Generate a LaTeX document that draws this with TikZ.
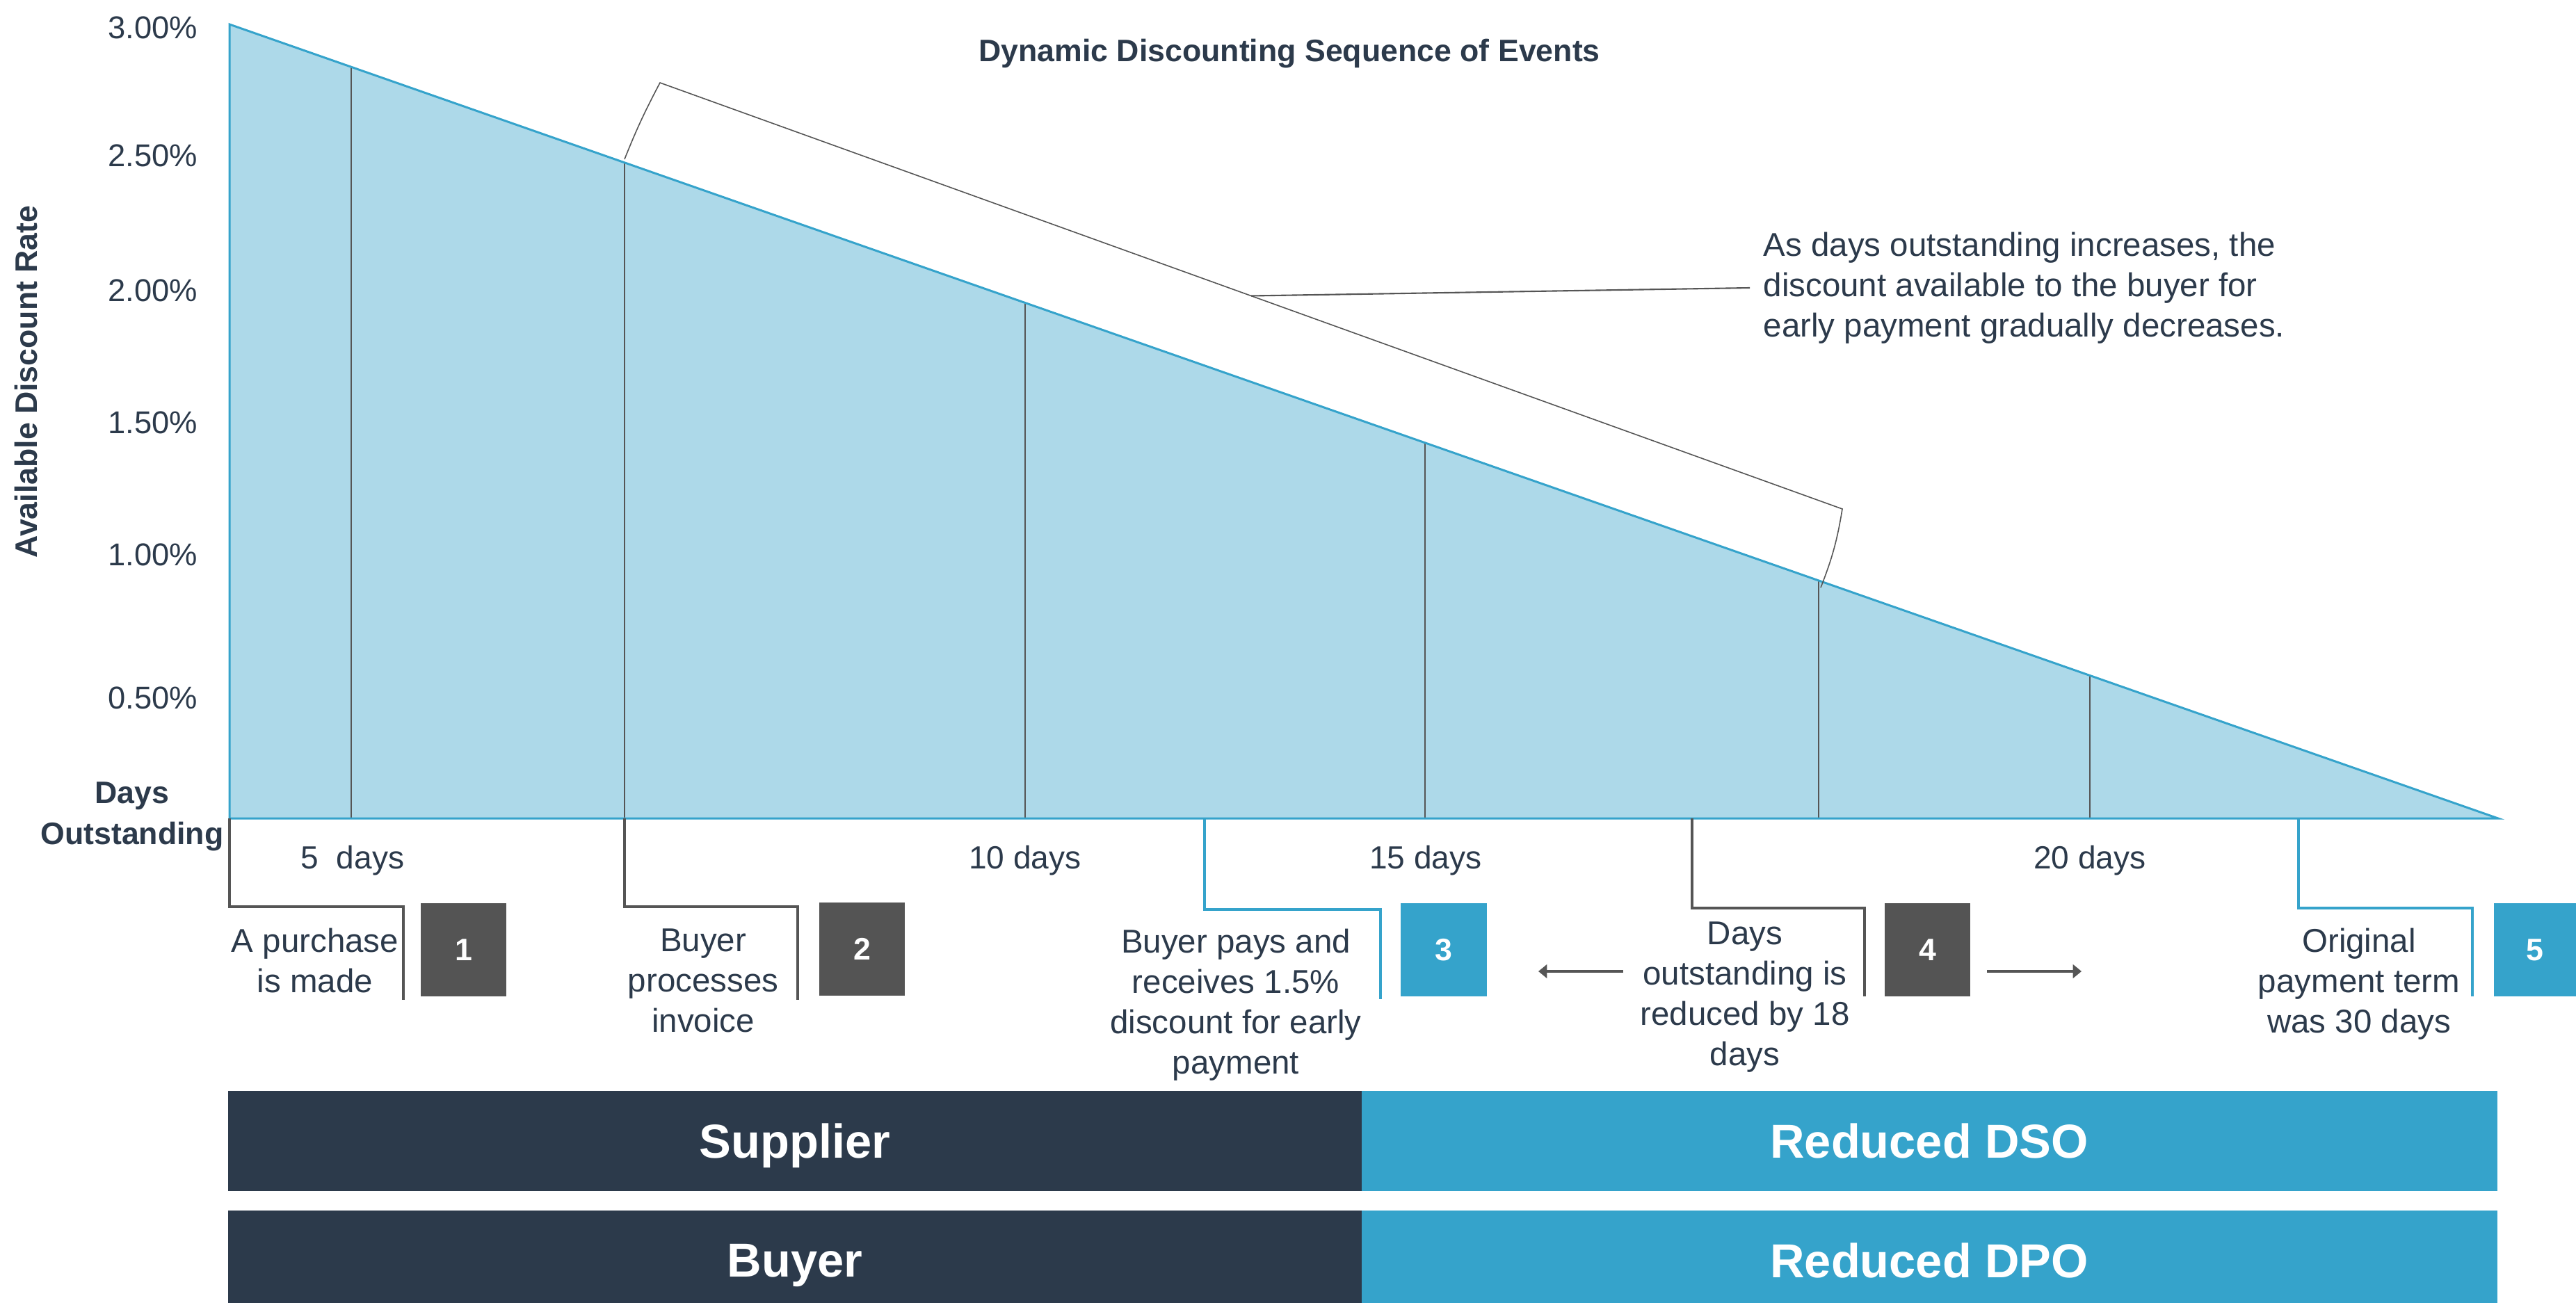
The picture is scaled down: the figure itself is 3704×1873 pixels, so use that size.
\documentclass[tikz,border=0pt]{standalone}
\usepackage{fontspec}
\setmainfont{Liberation Sans}
\usetikzlibrary{arrows.meta,calc}
\definecolor{navy}{HTML}{2C3A4B}
\definecolor{dblue}{HTML}{35A3CB}
\definecolor{lblue}{HTML}{ADD9E9}
\definecolor{gbox}{HTML}{545454}
\definecolor{gline}{HTML}{555555}
\begin{document}
\begin{tikzpicture}[x=0.01cm,y=-0.01cm,
  every node/.style={text=navy, inner sep=0pt},
  body/.style={font=\fontsize{13.5pt}{16.5pt}\selectfont, align=center},
  axislbl/.style={font=\fontsize{12.9pt}{15pt}\selectfont, anchor=east},
  daylbl/.style={font=\fontsize{13.1pt}{15pt}\selectfont},
  boldlbl/.style={font=\bfseries\fontsize{12.7pt}{16.7pt}\selectfont, align=center},
  numbox/.style={minimum width=1.23cm, minimum height=1.33cm, text=white, font=\bfseries\fontsize{12.7pt}{15pt}\selectfont},
  barbox/.style={minimum height=1.44cm, text=white, text depth=0pt, font=\bfseries\fontsize{19.5pt}{22pt}\selectfont},
  thinl/.style={draw=gline, line width=0.45pt},
  brk/.style={draw=gline, line width=1.1pt},
  brkb/.style={draw=dblue, line width=1.1pt},
  annot/.style={draw=gline, line width=0.45pt},
  arr/.style={draw=gline, line width=1.1pt, -{Triangle[length=3.5pt,width=5.5pt]}}
]
\useasboundingbox (0,0) rectangle (3704,1873);

% chart area
\coordinate (T0) at (330,35);
\coordinate (T1) at (3592,1177);
\coordinate (T2) at (330,1177);
\fill[lblue] (T0) -- (T1) -- (T2) -- cycle;
\foreach \x/\y in {505/96, 898/234, 1474/436, 2049/637, 2615/835, 3005/972}
  \draw[thinl] (\x,\y) -- (\x,1177);
\draw[dblue, line width=0.85pt, line join=miter] (T0) -- (T1) -- (T2) -- cycle;

% axis labels
\node[axislbl] (y300) at (285,40) {3.00\%};
\node[axislbl] (y250) at (285,224) {2.50\%};
\node[axislbl] (y200) at (285,418) {2.00\%};
\node[axislbl] (y150) at (285,608) {1.50\%};
\node[axislbl] (y100) at (285,798) {1.00\%};
\node[axislbl] (y050) at (285,1004) {0.50\%};
\node[boldlbl, rotate=90] (ytitle) at (38,549) {Available Discount Rate};
\node[boldlbl] (xtitle) at (190,1174) {Days\\Outstanding};
\node[boldlbl] (title) at (1854,77) {Dynamic Discounting Sequence of Events};

% day labels
\node[daylbl] (d5) at (507,1238) {5~ days};
\node[daylbl] (d10) at (1474,1238) {10 days};
\node[daylbl] (d15) at (2050,1238) {15 days};
\node[daylbl] (d20) at (3005,1238) {20 days};

% annotation bracket
\coordinate (a1) at (898,229);
\coordinate (a2) at (949,119);
\coordinate (a3) at (2649,732);
\coordinate (a4) at (2618,845);
\draw[annot] (a1) to[bend left=3] (a2) -- (a3) to[bend left=6] (a4);
\coordinate (am) at ($(a2)!0.5!(a3)$);
\node[body, align=left, anchor=west, inner xsep=0.19cm] (note) at (2516,414)
  {As days outstanding increases, the\\discount available to the buyer for\\early payment gradually decreases.};
\draw[annot, line width=0.6pt] (am) -- (note.west);

% callout 1
\coordinate (c1a) at (330,1177);
\coordinate (c1b) at (580,1304);
\coordinate (c1c) at (580,1438);
\draw[brk] (c1a) |- (c1b) -- (c1c);
\node[numbox, fill=gbox] (n1) at (666.5,1366) {1};
\node[body] (t1) at (453,1382) {A purchase\\is made};

% callout 2
\coordinate (c2a) at (898,1177);
\coordinate (c2b) at (1147,1304);
\coordinate (c2c) at (1147,1438);
\draw[brk] (c2a) |- (c2b) -- (c2c);
\node[numbox, fill=gbox] (n2) at (1239.5,1365) {2};
\node[body] (t2) at (1011,1410) {Buyer\\processes\\invoice};

% callout 3
\coordinate (c3a) at (1732,1177);
\coordinate (c3b) at (1985,1308);
\coordinate (c3c) at (1985,1437);
\draw[brkb] (c3a) |- (c3b) -- (c3c);
\node[numbox, fill=dblue] (n3) at (2076,1366) {3};
\node[body] (t3) at (1777,1445) {Buyer pays and\\receives 1.5\%\\discount for early\\payment};

% callout 4
\coordinate (c4a) at (2433,1177);
\coordinate (c4b) at (2681,1306);
\coordinate (c4c) at (2681,1433);
\draw[brk] (c4a) |- (c4b) -- (c4c);
\node[numbox, fill=gbox] (n4) at (2771.5,1366) {4};
\node[body] (t4) at (2509,1434) {Days\\outstanding is\\reduced by 18\\days};
\coordinate (l0) at (2334,1397);
\coordinate (l1) at (2212,1397);
\coordinate (r0) at (2857,1397);
\coordinate (r1) at (2993,1397);
\draw[arr] (l0) -- (l1);
\draw[arr] (r0) -- (r1);

% callout 5
\coordinate (c5a) at (3305,1177);
\coordinate (c5b) at (3555,1306);
\coordinate (c5c) at (3555,1433);
\draw[brkb] (c5a) |- (c5b) -- (c5c);
\node[numbox, fill=dblue, minimum width=1.18cm] (n5) at (3645,1366) {5};
\node[body] (t5) at (3392,1415) {Original\\payment term\\was 30 days};

% bottom bars
\node[barbox, fill=navy, minimum width=16.30cm] (sup) at (1143,1641) {Supplier};
\node[barbox, fill=dblue, minimum width=16.32cm] (dso) at (2774,1641) {Reduced DSO};
\node[barbox, fill=navy, minimum width=16.30cm] (buy) at (1143,1813) {Buyer};
\node[barbox, fill=dblue, minimum width=16.32cm] (dpo) at (2774,1813) {Reduced DPO};
\end{tikzpicture}
\end{document}
